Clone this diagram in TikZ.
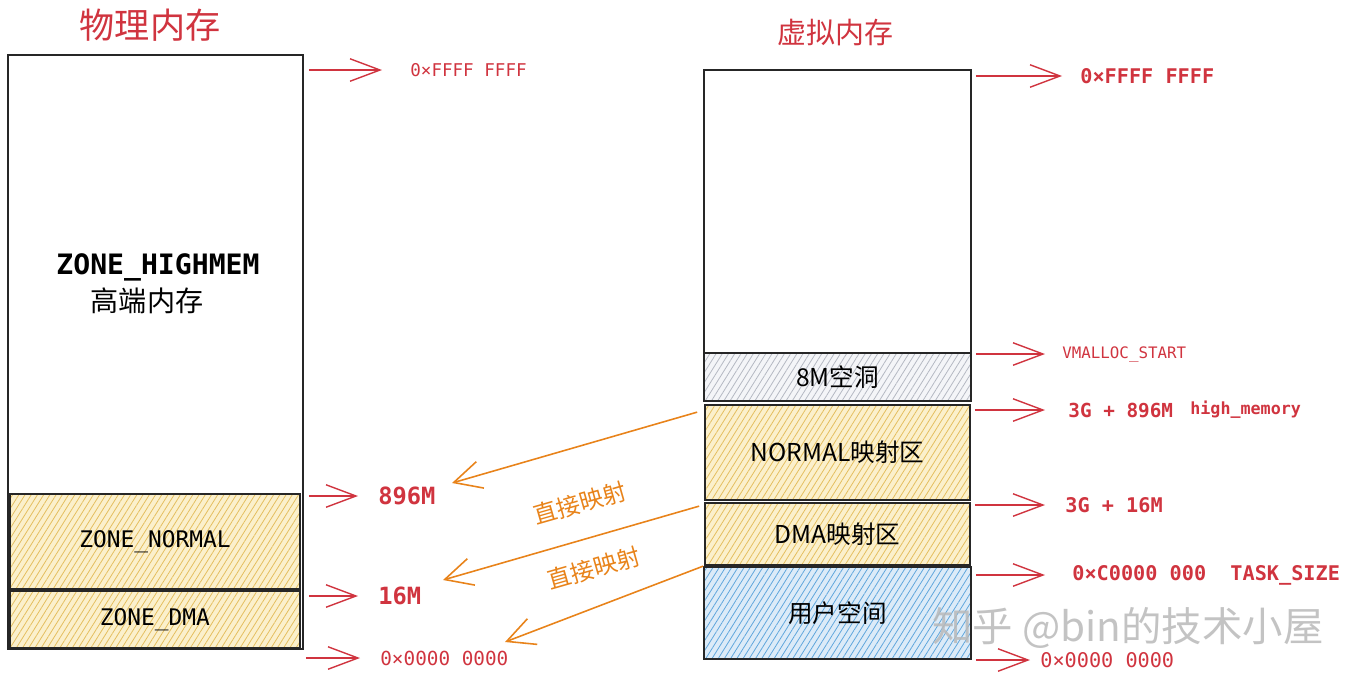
\documentclass[tikz,border=0pt]{standalone}
\usepackage{fontspec}
\setmainfont{Noto Sans CJK SC}
\setmonofont{DejaVu Sans Mono}
\definecolor{memred}{HTML}{D0343F}
\definecolor{maporange}{HTML}{E8831A}
\definecolor{zoneyel}{HTML}{FBF0CC}
\definecolor{zoneyelline}{HTML}{E4BE5E}
\definecolor{zoneblue}{HTML}{DCEBF8}
\definecolor{zoneblueline}{HTML}{5FA6DC}
\definecolor{zonegray}{HTML}{F4F5F8}
\definecolor{zonegrayline}{HTML}{B4B8C2}
\usetikzlibrary{arrows.meta, positioning, patterns.meta}

\begin{document}
\begin{tikzpicture}[x=0.02cm, y=-0.02cm,
    mem/.style={rectangle, draw=black!85, line width=1pt, inner sep=0pt},
    zone/.style 2 args={mem, preaction={fill=#1},
                preaction={pattern={Lines[angle=58, distance=3pt, line width=0.45pt]},
                           pattern color=#2}},
    zname/.style={font=\ttfamily\fontsize{13}{15}\selectfont},
    vname/.style={font=\fontsize{14}{16}\selectfont},
    title/.style={text=memred, inner sep=0pt},
    addr/.style={text=memred, anchor=west, inner sep=0pt},
    ptr/.style={-{Straight Barb[length=6mm, width=4.5mm]}, memred, line width=0.8pt},
    map/.style={-{Straight Barb[length=5.5mm, width=5.5mm]}, maporange, line width=0.9pt},
    maplbl/.style={text=maporange, rotate=16, font=\fontsize{13.5}{15}\selectfont}
  ]
  \useasboundingbox (0,0) rectangle (1355,684);

  % physical memory
  \node[title, font=\fontsize{20}{24}\selectfont] (ptitle) at (150,25) {物理内存};
  \node[mem, minimum width=5.9cm, minimum height=11.88cm] (phys) at (155.5,352) {};
  \node[zone={zoneyel}{zoneyelline}, zname, minimum width=5.8cm, minimum height=1.9cm]
       (normal) at (155,541.5) {ZONE\_NORMAL};
  \node[zone={zoneyel}{zoneyelline}, zname, minimum width=5.8cm, minimum height=1.14cm]
       (dma) at (155,619.5) {ZONE\_DMA};
  \node[font=\ttfamily\bfseries\fontsize{16}{18}\selectfont, inner sep=0pt] (hm) at (158,267) {ZONE\_HIGHMEM};
  \node[font=\fontsize{16}{18}\selectfont, inner sep=0pt] (hmcn) at (147,301) {高端内存};

  \node[addr, font=\ttfamily\fontsize{10}{12}\selectfont] (pffff) at (410,70) {0×FFFF FFFF};
  \node[addr, font=\ttfamily\bfseries\fontsize{13.5}{15}\selectfont] (p896) at (378,496) {896M};
  \node[addr, font=\ttfamily\bfseries\fontsize{13.5}{15}\selectfont] (p16) at (378,596) {16M};
  \node[addr, font=\ttfamily\fontsize{11}{13}\selectfont] (pzero) at (380,658) {0×0000 0000};

  \draw[ptr] ([xshift=1mm]phys.east |- pffff.west) -- ([xshift=-5.6mm]pffff.west);
  \draw[ptr] ([xshift=1mm]phys.east |- p896.west) -- ([xshift=-4mm]p896.west);
  \draw[ptr] ([xshift=1mm]phys.east |- p16.west) -- ([xshift=-4mm]p16.west);
  \draw[ptr] ([xshift=0.4mm]phys.east |- pzero.west) -- ([xshift=-4mm]pzero.west);

  % virtual memory
  \node[title, font=\fontsize{16.5}{19}\selectfont] (vtitle) at (835,33) {虚拟内存};
  \node[mem, minimum width=5.34cm, minimum height=5.66cm] (vtop) at (837.5,211.5) {};
  \node[zone={zonegray}{zonegrayline}, vname, minimum width=5.34cm, minimum height=0.96cm]
       (hole) at (837.5,377) {8M空洞};
  \node[zone={zoneyel}{zoneyelline}, vname, minimum width=5.3cm, minimum height=1.9cm]
       (vnormal) at (837.5,452.5) {NORMAL映射区};
  \node[zone={zoneyel}{zoneyelline}, vname, minimum width=5.3cm, minimum height=1.24cm]
       (vdma) at (837.5,534) {DMA映射区};
  \node[zone={zoneblue}{zoneblueline}, vname, minimum width=5.34cm, minimum height=1.84cm]
       (user) at (837.5,613) {用户空间};

  \node[addr, font=\ttfamily\bfseries\fontsize{11.5}{13}\selectfont] (vffff) at (1080,76) {0×FFFF FFFF};
  \node[addr, font=\ttfamily\fontsize{9}{11}\selectfont] (vmalloc) at (1062,354) {VMALLOC\_START};
  \node[addr, font=\ttfamily\bfseries\fontsize{11}{13}\selectfont] (v896) at (1068,410) {3G + 896M};
  \node[addr, font=\ttfamily\bfseries\fontsize{9.5}{11}\selectfont] (himem) at (1190,410) {high\_memory};
  \node[addr, font=\ttfamily\bfseries\fontsize{11.5}{13}\selectfont] (v16) at (1065,505) {3G + 16M};
  \node[addr, font=\ttfamily\bfseries\fontsize{11.5}{13}\selectfont] (vtask) at (1072,575) {0×C0000 000\ \ TASK\_SIZE};
  \node[addr, font=\ttfamily\fontsize{11.5}{13}\selectfont] (vzero) at (1040,660) {0×0000 0000};

  \draw[ptr] ([xshift=0.8mm]vtop.east |- vffff.west) -- ([xshift=-3.6mm]vffff.west);
  \draw[ptr] ([xshift=0.8mm]hole.east |- vmalloc.west) -- ([xshift=-3.4mm]vmalloc.west);
  \draw[ptr] ([xshift=0.8mm]vnormal.east |- v896.west) -- ([xshift=-4.6mm]v896.west);
  \draw[ptr] ([xshift=0.8mm]vdma.east |- v16.west) -- ([xshift=-4mm]v16.west);
  \draw[ptr] ([xshift=0.8mm]user.east |- vtask.west) -- ([xshift=-5.4mm]vtask.west);
  \draw[ptr] ([xshift=0.8mm]user.east |- vzero.west) -- ([xshift=-2mm]vzero.west);

  % direct mapping
  \coordinate (tipa) at (452,483);
  \coordinate (tipb) at (443,580);
  \coordinate (tipc) at (505,642);
  \draw[map] ([shift={(-7,8)}]vnormal.north west) -- (tipa);
  \draw[map] ([shift={(-5,4)}]vdma.north west) -- (tipb);
  \draw[map] (user.north west) -- (tipc);
  \node[maplbl] (mapa) at (580,503) {直接映射};
  \node[maplbl] (mapb) at (594,568) {直接映射};

  \node[text=gray!55, opacity=0.85, font=\fontsize{23}{26}\selectfont] (wm) at (1128,628) {知乎 @bin的技术小屋};
\end{tikzpicture}
\end{document}
